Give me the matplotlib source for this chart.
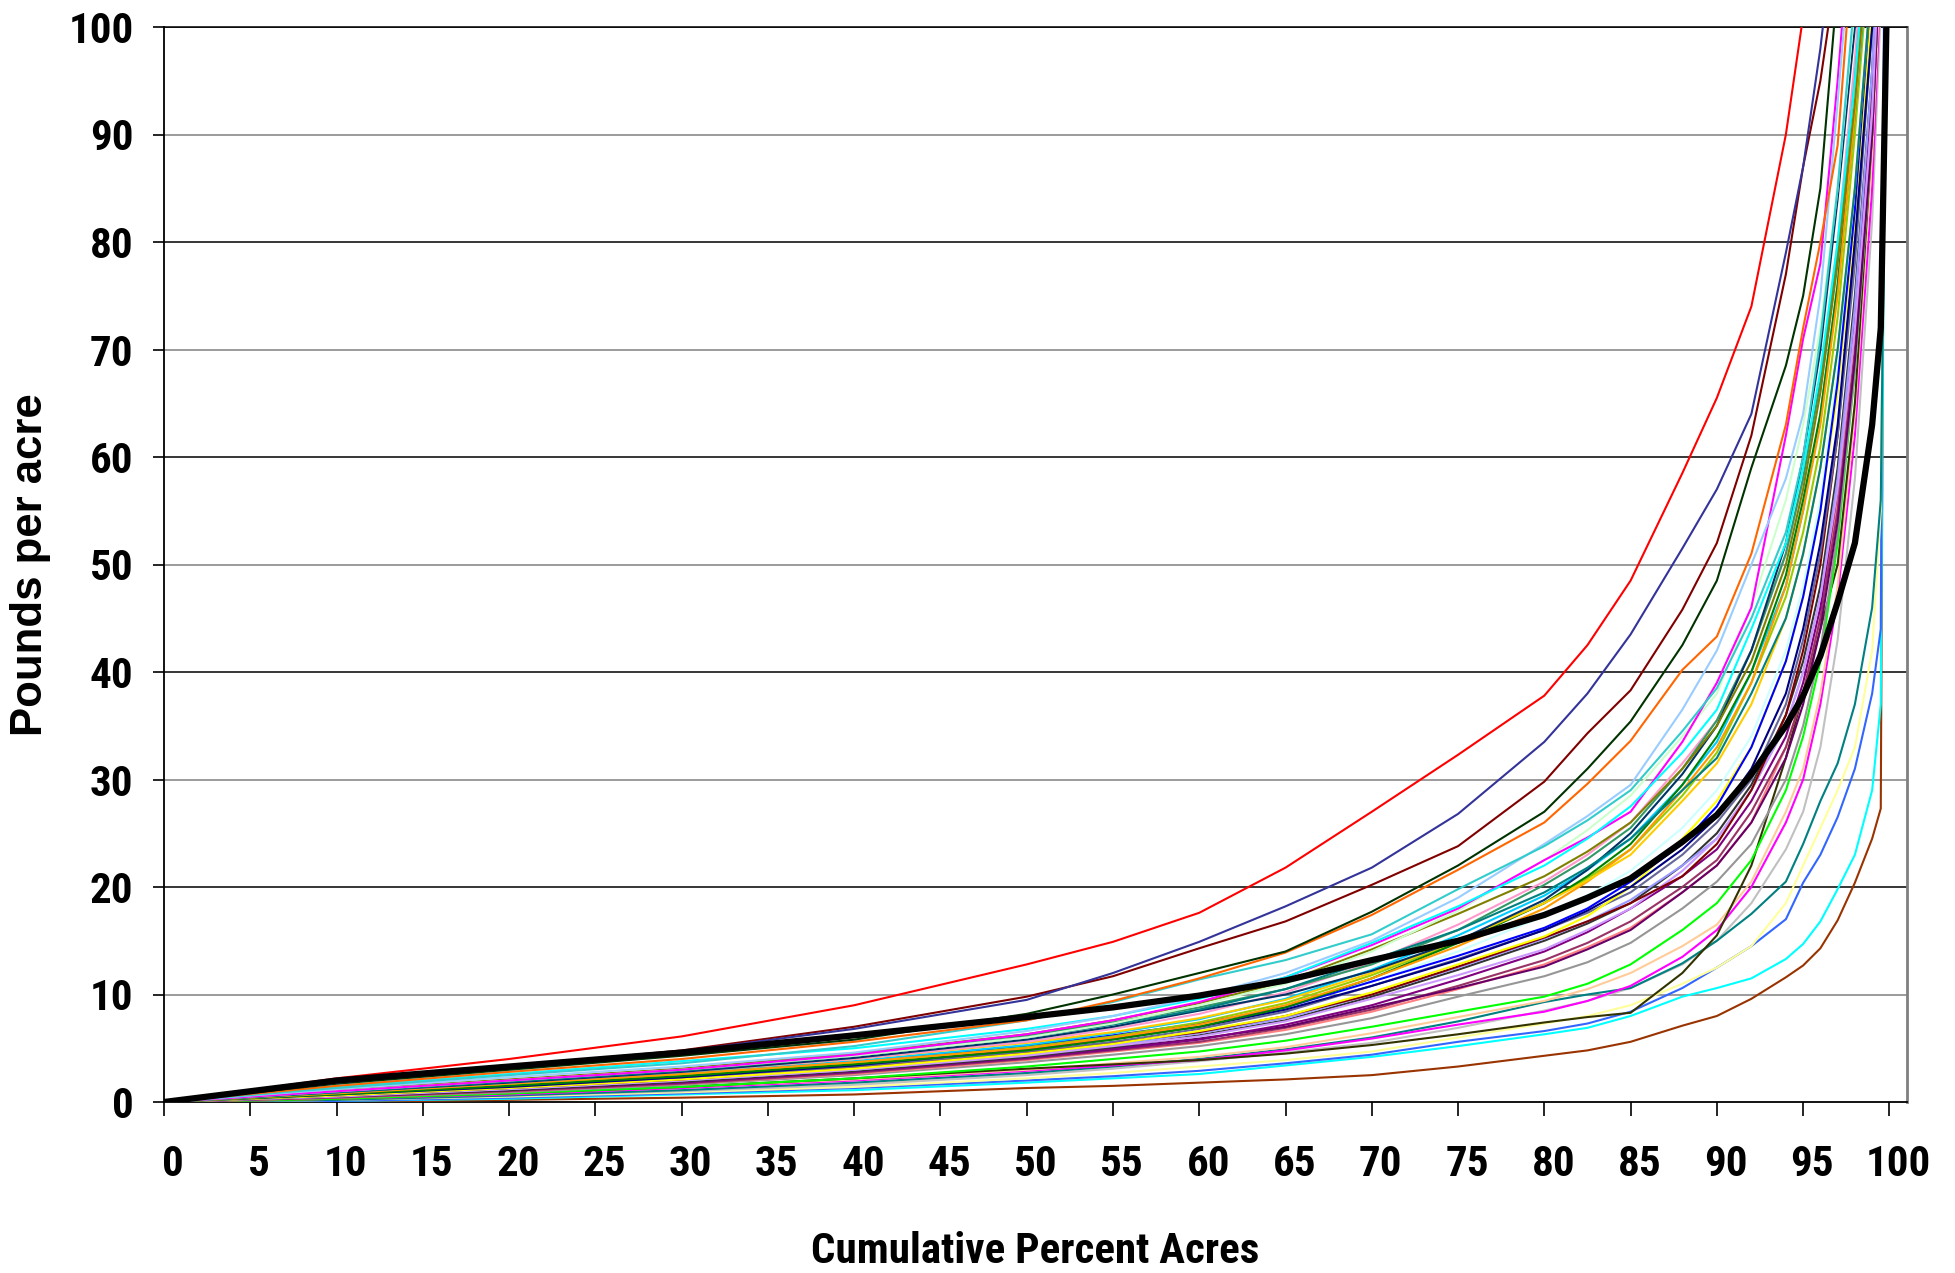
import matplotlib
matplotlib.use("Agg")
import matplotlib.pyplot as plt
from matplotlib import font_manager as fm
from matplotlib.transforms import ScaledTranslation

x_pct = [0, 10, 20, 30, 40, 50, 55, 60, 65, 70, 75, 80, 82.5, 85, 88, 90, 92, 94, 95, 96, 97, 98, 99, 99.5, 100]

# pounds per acre, one list per state curve (values past 100 are clipped by the axis)
red       = [0, 2.2, 4.0, 6.1, 9.0, 12.8, 14.9, 17.6, 21.8, 27.0, 32.3, 37.8, 42.5, 48.5, 58.5, 65.5, 74, 90, 101, 115, 130, 150, 170, 185, 200]
dark_blue = [0, 1.8, 3.4, 4.7, 6.8, 9.5, 12.0, 14.9, 18.2, 21.8, 26.8, 33.5, 38, 43.5, 51.5, 57, 64, 79, 87, 98, 112, 130, 150, 165, 180]
maroon    = [0, 1.9, 3.3, 4.8, 7.0, 9.8, 11.7, 14.3, 16.8, 20.2, 23.8, 29.8, 34.3, 38.3, 45.8, 52, 62, 77, 87, 95, 106, 120, 140, 155, 170]
dark_grn  = [0, 1.7, 3.0, 4.3, 5.8, 8.2, 10.0, 12.0, 14.0, 17.7, 22.0, 27.0, 31, 35.4, 42.5, 48.5, 59, 68.5, 75, 85, 104, 120, 140, 150, 160]
orange    = [0, 1.5, 2.8, 4.0, 5.6, 7.6, 9.4, 11.5, 13.9, 17.4, 21.6, 26.0, 29.6, 33.6, 40.2, 43.3, 51, 63, 72, 80, 89, 110, 135, 150, 160]
turquoise = [0, 1.3, 2.5, 3.6, 5.2, 7.6, 9.3, 11.4, 13.2, 15.6, 19.8, 23.8, 26.2, 29.0, 34.5, 38.5, 45, 53, 60, 71, 85, 103, 125, 140, 150]
light_blu = [0, 1.2, 2.3, 3.3, 4.6, 6.6, 8.0, 9.8, 12.0, 15.0, 19.0, 24.0, 26.6, 29.5, 36.5, 42, 50, 58, 64, 75, 93, 112, 130, 140, 150]
cyan_hi   = [0, 1.4, 2.6, 3.8, 5.0, 6.8, 8.0, 9.6, 11.6, 14.8, 18.2, 22.0, 24.5, 27.5, 32.5, 36.5, 44, 52, 59, 68, 80, 95, 115, 130, 140]
magenta   = [0, 1.0, 2.0, 3.0, 4.4, 6.3, 7.6, 9.3, 11.6, 14.6, 18.0, 22.5, 24.6, 27.0, 33.5, 39, 46, 62, 71, 78, 95, 115, 135, 145, 155]
pale_grn  = [0, 1.0, 2.0, 3.0, 4.3, 6.0, 7.3, 9.0, 11.0, 14.0, 17.8, 22.5, 25.3, 28.5, 34, 38, 46, 56, 63, 72, 85, 102, 120, 130, 140]
olive     = [0, 1.1, 2.1, 3.1, 4.5, 6.3, 7.6, 9.2, 11.2, 14.2, 17.5, 21.0, 23.3, 26.0, 31, 35, 41, 50, 57, 66, 78, 93, 112, 125, 135]
teal      = [0, 0.9, 1.9, 2.9, 4.3, 6.0, 7.2, 8.6, 10.5, 13.2, 16.0, 19.5, 21.8, 24.5, 29, 32, 38, 45, 51, 59, 70, 85, 105, 120, 130]
slate     = [0, 0.9, 1.8, 2.8, 4.1, 5.8, 7.0, 8.5, 10.0, 12.2, 15.0, 18.8, 21.6, 25.0, 30.5, 35, 42, 52, 60, 70, 84, 100, 120, 130, 140]
sea_grn   = [0, 1.0, 2.0, 3.0, 4.5, 6.2, 7.4, 8.8, 10.5, 12.8, 16.0, 20.2, 22.6, 25.5, 31, 35.5, 42, 51, 58, 67, 79, 95, 115, 125, 135]
pink      = [0, 0.9, 1.8, 2.8, 4.0, 5.6, 6.8, 8.2, 10.2, 13.0, 16.5, 20.5, 23.0, 26, 31.5, 35.5, 42, 51, 58, 67, 80, 97, 118, 130, 140]
gold      = [0, 0.9, 1.8, 2.8, 4.0, 5.5, 6.5, 7.8, 9.5, 12.0, 15.0, 18.5, 20.6, 23.0, 28, 31.5, 37, 45, 51, 59, 70, 85, 105, 120, 130]
amber     = [0, 0.8, 1.7, 2.6, 3.7, 5.0, 6.0, 7.2, 9.0, 11.5, 14.5, 18.0, 20.5, 23.5, 29, 33, 39, 48, 55, 63, 75, 92, 112, 125, 135]
green     = [0, 0.7, 1.5, 2.4, 3.5, 4.8, 5.8, 7.0, 8.8, 11.5, 14.8, 18.5, 21.0, 24.0, 29.5, 34, 40, 49, 56, 64, 76, 92, 112, 125, 135]
sky       = [0, 0.9, 1.8, 2.7, 3.8, 5.3, 6.4, 7.7, 9.6, 12.3, 15.5, 19.2, 21.6, 24.5, 29.5, 33.5, 40, 48, 55, 64, 76, 92, 110, 120, 130]
lime_olv  = [0, 0.8, 1.6, 2.5, 3.6, 5.1, 6.1, 7.4, 9.2, 11.8, 14.9, 18.5, 20.8, 23.5, 28.5, 32.5, 39, 47, 53, 61, 73, 90, 110, 122, 135]
blue      = [0, 0.8, 1.6, 2.6, 3.7, 5.2, 6.2, 7.3, 8.8, 11.2, 13.6, 16.2, 18.0, 20.5, 24, 27.5, 33, 41, 47, 55, 67, 83, 105, 120, 130]
navy      = [0, 0.7, 1.4, 2.3, 3.4, 4.9, 5.9, 7.0, 8.6, 10.8, 13.2, 16.0, 17.8, 20.0, 23.5, 26.5, 31, 38, 44, 52, 63, 80, 100, 115, 125]
pale_cyan = [0, 0.7, 1.5, 2.4, 3.5, 4.9, 5.8, 7.0, 8.8, 11.2, 14.0, 17.3, 19.2, 21.5, 25.5, 29, 34, 42, 48, 56, 68, 85, 105, 118, 130]
yellow    = [0, 0.6, 1.3, 2.1, 3.1, 4.5, 5.4, 6.6, 8.0, 10.2, 12.8, 15.4, 17.3, 20.0, 24.5, 28, 33, 41, 47, 55, 66, 82, 102, 115, 125]
grey_blue = [0, 0.6, 1.3, 2.2, 3.3, 4.7, 5.6, 6.8, 8.4, 10.8, 13.3, 16.0, 17.6, 19.5, 23, 26, 30, 37, 43, 51, 62, 78, 100, 115, 130]
maroon_lo = [0, 0.6, 1.3, 2.1, 3.2, 4.6, 5.5, 6.5, 8.0, 10.0, 12.6, 15.3, 16.8, 18.5, 21, 24, 29, 36, 42, 50, 62, 80, 102, 115, 130]
lavender  = [0, 0.5, 1.2, 2.0, 3.0, 4.3, 5.2, 6.1, 7.5, 9.6, 11.8, 14.2, 16.0, 18.0, 21.5, 24.5, 29, 35, 40, 47, 57, 72, 92, 110, 125]
periwink  = [0, 0.6, 1.2, 2.0, 3.0, 4.4, 5.3, 6.4, 7.8, 10.0, 12.5, 15.2, 16.8, 18.8, 22, 24.5, 29, 35, 40, 47, 58, 74, 96, 112, 128]
dark_grey = [0, 0.5, 1.1, 1.9, 2.9, 4.2, 5.1, 6.2, 7.6, 9.8, 12.3, 15.0, 16.6, 18.5, 22, 25, 29.5, 36, 41, 48, 59, 75, 96, 112, 130]
purple    = [0, 0.5, 1.1, 1.8, 2.8, 4.1, 4.9, 5.8, 7.2, 9.0, 11.4, 14.0, 15.8, 18.0, 21, 23.5, 28, 34, 39, 46, 57, 73, 95, 110, 125]
dk_purple = [0, 0.5, 1.1, 1.9, 2.9, 4.2, 5.0, 5.9, 7.0, 8.8, 10.6, 12.6, 14.2, 16.0, 19.5, 22, 26, 32, 37, 44, 54, 69, 90, 108, 125]
plum      = [0, 0.4, 1.0, 1.7, 2.7, 4.0, 4.8, 5.6, 6.9, 8.6, 10.8, 13.2, 14.8, 16.8, 20, 22.5, 27, 33, 38, 45, 55, 70, 90, 108, 125]
salmon    = [0, 0.4, 1.0, 1.7, 2.6, 3.9, 4.7, 5.5, 6.7, 8.4, 10.5, 12.8, 14.4, 16.2, 19.5, 22, 26, 33, 38, 45, 56, 72, 93, 110, 125]
grey      = [0, 0.4, 0.9, 1.6, 2.5, 3.7, 4.4, 5.2, 6.3, 7.8, 9.8, 11.7, 13.0, 14.8, 18.0, 20.5, 24, 30, 35, 42, 53, 68, 90, 108, 125]
lime      = [0, 0.3, 0.8, 1.4, 2.2, 3.3, 4.0, 4.7, 5.7, 7.0, 8.4, 9.8, 11.0, 12.8, 16.0, 18.5, 22.5, 29, 34, 41, 52, 68, 90, 108, 125]
dk_olive  = [0, 0.3, 0.8, 1.4, 2.2, 3.1, 3.5, 3.9, 4.5, 5.3, 6.3, 7.4, 7.9, 8.3, 12, 15.5, 22, 32, 38, 44, 50, 65, 90, 108, 125]
peach     = [0, 0.3, 0.8, 1.4, 2.1, 3.0, 3.6, 4.2, 5.1, 6.4, 7.9, 9.4, 10.5, 12.0, 14.5, 16.5, 20.5, 27, 31, 38, 48, 64, 88, 106, 125]
magenta_lo = [0, 0.3, 0.7, 1.3, 2.0, 2.9, 3.4, 3.9, 4.8, 5.9, 7.2, 8.4, 9.4, 10.8, 13.5, 16.0, 20.0, 26, 30, 37, 47, 62, 85, 105, 125]
teal_lo   = [0, 0.2, 0.6, 1.1, 1.8, 2.7, 3.3, 4.0, 4.9, 6.0, 7.5, 9.3, 10.0, 10.6, 12.9, 15.0, 17.5, 20.5, 24, 28, 31.5, 37, 46, 56, 125]
silver    = [0, 0.2, 0.6, 1.0, 1.6, 2.5, 3.1, 3.8, 4.6, 5.5, 6.9, 8.5, 9.4, 10.6, 12.8, 15.0, 18.5, 23.5, 27, 33, 43, 58, 82, 102, 125]
pale_yel  = [0, 0.2, 0.5, 0.9, 1.4, 2.2, 2.7, 3.3, 3.9, 4.7, 6.0, 7.3, 8.0, 9.0, 11.0, 12.5, 14.5, 18.5, 22, 25.5, 29, 33, 42, 55, 140]
royal     = [0, 0.1, 0.4, 0.8, 1.3, 2.0, 2.4, 2.9, 3.6, 4.4, 5.6, 6.6, 7.3, 8.4, 10.6, 12.5, 14.5, 17.0, 20.4, 23, 26.5, 31, 38, 44, 200]
cyan_lo   = [0, 0.1, 0.3, 0.7, 1.1, 1.8, 2.2, 2.6, 3.4, 4.2, 5.2, 6.3, 6.9, 8.0, 9.8, 10.6, 11.5, 13.3, 14.7, 16.8, 19.8, 23, 29, 37, 160]
brown     = [0, 0.0, 0.2, 0.4, 0.7, 1.3, 1.5, 1.8, 2.1, 2.5, 3.3, 4.3, 4.8, 5.6, 7.1, 8.0, 9.6, 11.6, 12.7, 14.3, 16.9, 20.4, 24.5, 27.3, 200]
average   = [0, 2.0, 3.3, 4.6, 6.2, 7.9, 8.8, 9.9, 11.3, 13.2, 15.0, 17.4, 19.0, 20.8, 24.2, 26.7, 30.5, 35.0, 37.8, 41.5, 46.5, 52, 63, 72, 115]

series = [
    (brown, "#993300"), (cyan_lo, "#00FFFF"), (royal, "#3366FF"), (pale_yel, "#FFFF99"),
    (silver, "#C0C0C0"), (teal_lo, "#008080"), (magenta_lo, "#FF00FF"), (peach, "#FFCC99"),
    (dk_olive, "#333300"), (lime, "#00FF00"), (grey, "#969696"), (salmon, "#FF8080"),
    (plum, "#993366"), (dk_purple, "#660066"), (purple, "#800080"), (dark_grey, "#333333"),
    (periwink, "#9999FF"), (lavender, "#CC99FF"), (maroon_lo, "#800000"), (grey_blue, "#666699"),
    (yellow, "#FFFF00"), (pale_cyan, "#CCFFFF"), (navy, "#000080"), (blue, "#0000FF"),
    (lime_olv, "#99CC00"), (sky, "#00CCFF"), (green, "#008000"), (amber, "#FF9900"),
    (gold, "#FFCC00"), (pink, "#FF99CC"), (sea_grn, "#339966"), (slate, "#003366"),
    (teal, "#008080"), (olive, "#808000"), (pale_grn, "#CCFFCC"), (magenta, "#FF00FF"),
    (cyan_hi, "#00FFFF"), (light_blu, "#99CCFF"), (turquoise, "#33CCCC"), (orange, "#FF6600"),
    (dark_grn, "#003300"), (maroon, "#800000"), (dark_blue, "#333399"), (red, "#FF0000"),
]


def narrow_bold(size):
    # the chart uses Arial Narrow Bold; take the closest narrow bold face on the box
    prefs = ["liberation sans narrow", "arial narrow", "noto sans", "roboto", "open sans", ""]
    best = None
    for f in fm.fontManager.ttflist:
        nm = f.name.lower()
        if f.weight not in ("bold", 700):
            continue
        if not ("narrow" in nm or "condensed" in nm or f.stretch == "condensed"):
            continue
        rank = next(i for i, p in enumerate(prefs) if nm.startswith(p))
        if best is None or rank < best[0]:
            best = (rank, f.fname)
    if best:
        return fm.FontProperties(fname=best[1], size=size)
    return fm.FontProperties(family="Liberation Sans", weight="bold", size=size)


tick_fp = narrow_bold(31)

fig = plt.figure(figsize=(19.56, 12.73), dpi=100)
ax = fig.add_axes([164/1956, 1-1102/1273, (1907-164)/1956, (1102-27)/1273])

for vals, col in series:
    ax.plot(x_pct, vals, color=col, lw=1.5, zorder=3)
ax.plot(x_pct, average, color="black", lw=4.5, zorder=4, solid_joinstyle="round")

ax.set_xlim(0, 101.02)
ax.set_ylim(0, 100)

for yv in range(10, 101, 10):
    ax.axhline(yv, color="black" if yv % 20 == 0 else "#808080", lw=1.1, zorder=1)

ax.set_xticks(range(0, 101, 5))
ax.set_yticks(range(0, 101, 10))
ax.tick_params(axis="x", direction="out", length=10, width=1.2, pad=20)
ax.tick_params(axis="y", direction="out", length=8, width=1.2, pad=14)
for lab in ax.get_xticklabels() + ax.get_yticklabels():
    lab.set_fontproperties(tick_fp)
for lab in ax.get_xticklabels():
    lab.set_transform(lab.get_transform() + ScaledTranslation(9/100, 0, fig.dpi_scale_trans))

ax.spines["left"].set_color("black")
ax.spines["left"].set_linewidth(1.3)
ax.spines["bottom"].set_color("black")
ax.spines["bottom"].set_linewidth(1.3)
ax.spines["top"].set_color("black")
ax.spines["top"].set_linewidth(1.1)
ax.spines["right"].set_color("#808080")
ax.spines["right"].set_linewidth(2)

fig.text(1035/1956, 1-1263/1273, "Cumulative Percent Acres", ha="center", va="baseline",
         fontproperties=narrow_bold(31))
fig.text(31/1956, 1-565/1273, "Pounds per acre", ha="center", va="center", rotation=90,
         fontsize=31.5, fontweight="bold", family=["Liberation Sans", "DejaVu Sans"])

fig.savefig("out.png", dpi=100)
